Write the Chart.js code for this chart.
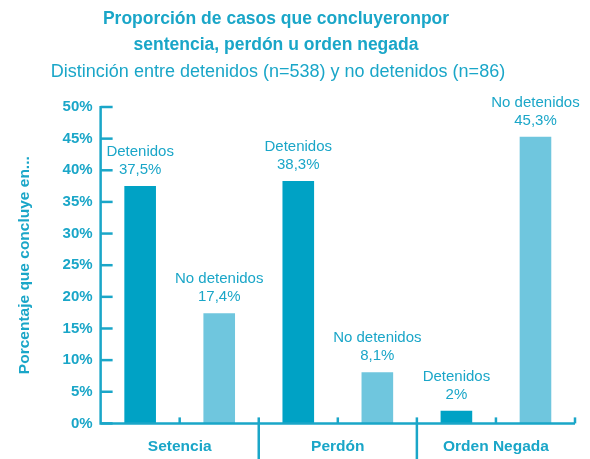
<!DOCTYPE html>
<html>
<head>
<meta charset="utf-8">
<script src="https://cdn.jsdelivr.net/npm/chart.js@4"></script>
<style>
  html, body { margin: 0; padding: 0; background: #fff; }
  #wrap { width: 590px; height: 459px; }
</style>
</head>
<body>
<div id="wrap"><canvas id="mycanvas" width="590" height="459"></canvas></div>
<script>
var categorias = ['Setencia', 'Perdón', 'Orden Negada'];
var detenidos = [37.5, 38.3, 2];
var noDetenidos = [17.4, 8.1, 45.3];
var etiquetas = ['Detenidos', 'No detenidos'];
var ticksY = [0, 5, 10, 15, 20, 25, 30, 35, 40, 45, 50];
var titulo = ['Proporción de casos que concluyeronpor', 'sentencia, perdón u orden negada'];
var subtitulo = 'Distinción entre detenidos (n=538) y no detenidos (n=86)';

var teal = '#1aa6c8';
var oscuro = '#00a2c5';
var claro = '#6fc6de';
var fuente = '"Liberation Sans", Arial, sans-serif';

function fmt(v) {
	return String(v).replace('.', ',') + '%';
}

// titulo, ejes, marcas y etiquetas sobre las barras
var dibujo = {
	id: 'dibujo',
	afterDatasetsDraw: function(chart) {
		var ctx = chart.ctx;
		var x = chart.scales.x, y = chart.scales.y;
		var area = chart.chartArea;
		var y0 = y.getPixelForValue(0);
		ctx.save();

		// titulo
		ctx.fillStyle = teal;
		ctx.textAlign = 'center';
		ctx.textBaseline = 'middle';
		ctx.font = 'bold 17.5px ' + fuente;
		ctx.fillText(titulo[0], 276, 19);
		ctx.fillText(titulo[1], 276, 45);
		ctx.font = '18px ' + fuente;
		ctx.fillText(subtitulo, 278, 72);

		ctx.strokeStyle = teal;
		ctx.lineWidth = 2.5;
		ctx.lineCap = 'butt';
		// eje y y eje x
		ctx.beginPath();
		ctx.moveTo(area.left, y.getPixelForValue(50) - 1);
		ctx.lineTo(area.left, y0);
		ctx.lineTo(area.right, y0);
		ctx.stroke();
		// marcas del eje y hacia dentro
		ticksY.forEach(function(t) {
			var py = y.getPixelForValue(t);
			ctx.beginPath();
			ctx.moveTo(area.left, py);
			ctx.lineTo(area.left + 12, py);
			ctx.stroke();
		});
		// marcas del eje x
		var ancho = x.getPixelForValue(1) - x.getPixelForValue(0);
		for (var i = 0; i < categorias.length; i++) {
			var c = x.getPixelForValue(i);
			ctx.beginPath();
			ctx.moveTo(c, y0);
			ctx.lineTo(c, y0 - 6);
			ctx.stroke();
			var b = c + ancho / 2;
			ctx.beginPath();
			if (i < categorias.length - 1) {
				ctx.moveTo(b, y0 - 6);
				ctx.lineTo(b, chart.height);
			} else {
				ctx.moveTo(b, y0);
				ctx.lineTo(b, y0 - 6);
			}
			ctx.stroke();
		}
		// etiquetas sobre las barras
		ctx.font = '15px ' + fuente;
		ctx.textBaseline = 'alphabetic';
		chart.data.datasets.forEach(function(ds, di) {
			chart.getDatasetMeta(di).data.forEach(function(bar, j) {
				ctx.fillText(fmt(ds.data[j]), bar.x, bar.y - 12);
				ctx.fillText(etiquetas[di], bar.x, bar.y - 30);
			});
		});
		ctx.restore();
	}
};

var chartdata = {
	labels: categorias,
	datasets: [
		{ label: etiquetas[0], backgroundColor: oscuro, data: detenidos,
		  categoryPercentage: 1, barPercentage: 0.4 },
		{ label: etiquetas[1], backgroundColor: claro, data: noDetenidos,
		  categoryPercentage: 1, barPercentage: 0.4 }
	]
};

var ctx = document.getElementById('mycanvas');
var barGraph = new Chart(ctx, {
	type: 'bar',
	data: chartdata,
	plugins: [dibujo],
	options: {
		responsive: false,
		animation: false,
		layout: { padding: { left: 15, right: 15, top: 107, bottom: -11 } },
		plugins: {
			legend: { display: false },
			tooltip: { enabled: false }
		},
		scales: {
			x: {
				grid: { display: false, drawTicks: false },
				border: { display: false },
				ticks: {
					color: teal,
					padding: 14,
					font: { family: fuente, size: 15.5, weight: 'bold' }
				}
			},
			y: {
				min: 0,
				max: 50,
				afterBuildTicks: function(axis) {
					axis.ticks = ticksY.map(function(v) { return { value: v }; });
				},
				grid: { display: false, drawTicks: false },
				border: { display: false },
				ticks: {
					color: teal,
					padding: 8,
					font: { family: fuente, size: 15, weight: 'bold' },
					callback: function(v) { return v + '%'; }
				},
				title: {
					display: true,
					text: 'Porcentaje que concluye en...',
					color: teal,
					padding: { top: 0, bottom: 21 },
					font: { family: fuente, size: 15.5, weight: 'bold' }
				}
			}
		}
	}
});
</script>
</body>
</html>
